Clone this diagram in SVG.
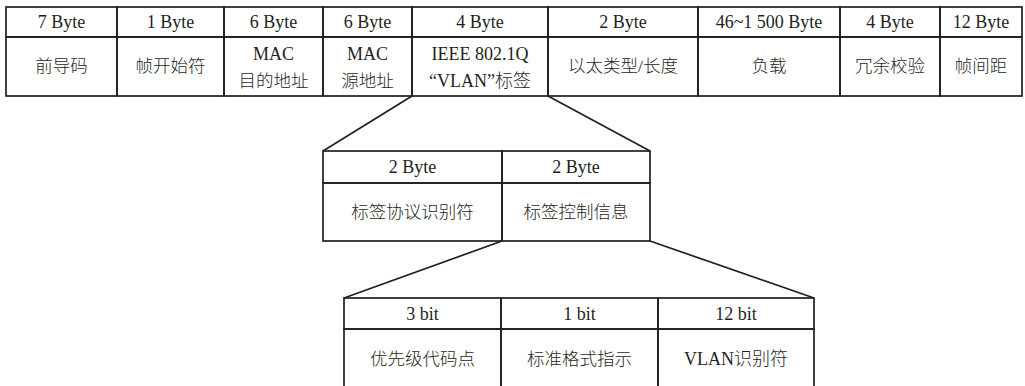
<svg xmlns="http://www.w3.org/2000/svg" width="1025" height="386" viewBox="0 0 1025 386">
<style>
  rect.c { fill: none; stroke: #231f20; stroke-width: 1.7; }
  line.k { stroke: #231f20; stroke-width: 1.7; }
  text { font-family: "Liberation Serif", "Noto Sans CJK SC", serif; font-size: 18px; font-weight: 300; fill: #231f20; text-anchor: middle; }
  text.cjk { font-size: 17.5px; }
</style>
<rect width="1025" height="386" fill="#ffffff"/>

<!-- Top frame table -->
<g id="preamble">
  <rect class="c" x="6" y="7" width="111" height="30"/>
  <rect class="c" x="6" y="37" width="111" height="59"/>
  <text x="61.5" y="28">7 Byte</text>
  <text class="cjk" x="61.5" y="72">前导码</text>
</g>
<g id="sfd">
  <rect class="c" x="117" y="7" width="107" height="30"/>
  <rect class="c" x="117" y="37" width="107" height="59"/>
  <text x="170.5" y="28">1 Byte</text>
  <text class="cjk" x="170.5" y="72">帧开始符</text>
</g>
<g id="dst-mac">
  <rect class="c" x="224" y="7" width="99" height="30"/>
  <rect class="c" x="224" y="37" width="99" height="59"/>
  <text x="273.5" y="28">6 Byte</text>
  <text x="273.5" y="60">MAC</text>
  <text class="cjk" x="273.5" y="87">目的地址</text>
</g>
<g id="src-mac">
  <rect class="c" x="323" y="7" width="89" height="30"/>
  <rect class="c" x="323" y="37" width="89" height="59"/>
  <text x="367.5" y="28">6 Byte</text>
  <text x="367.5" y="60">MAC</text>
  <text class="cjk" x="367.5" y="87">源地址</text>
</g>
<g id="vlan-tag">
  <rect class="c" x="412" y="7" width="136" height="30"/>
  <rect class="c" x="412" y="37" width="136" height="59"/>
  <text x="480" y="28">4 Byte</text>
  <text x="480" y="60">IEEE 802.1Q</text>
  <text x="480" y="87">“VLAN”标签</text>
</g>
<g id="ethertype">
  <rect class="c" x="548" y="7" width="150" height="30"/>
  <rect class="c" x="548" y="37" width="150" height="59"/>
  <text x="623" y="28">2 Byte</text>
  <text class="cjk" x="623" y="72">以太类型/长度</text>
</g>
<g id="payload">
  <rect class="c" x="698" y="7" width="142" height="30"/>
  <rect class="c" x="698" y="37" width="142" height="59"/>
  <text x="769" y="28">46~1 500 Byte</text>
  <text class="cjk" x="769" y="72">负载</text>
</g>
<g id="fcs">
  <rect class="c" x="840" y="7" width="100" height="30"/>
  <rect class="c" x="840" y="37" width="100" height="59"/>
  <text x="890" y="28">4 Byte</text>
  <text class="cjk" x="890" y="72">冗余校验</text>
</g>
<g id="ifg">
  <rect class="c" x="940" y="7" width="82" height="30"/>
  <rect class="c" x="940" y="37" width="82" height="59"/>
  <text x="981" y="28">12 Byte</text>
  <text class="cjk" x="981" y="72">帧间距</text>
</g>

<!-- Middle: VLAN tag breakdown -->
<g id="tpid">
  <rect class="c" x="323" y="151" width="179" height="32"/>
  <rect class="c" x="323" y="183" width="179" height="58"/>
  <text x="412.5" y="173">2 Byte</text>
  <text class="cjk" x="412.5" y="218">标签协议识别符</text>
</g>
<g id="tci">
  <rect class="c" x="502" y="151" width="148" height="32"/>
  <rect class="c" x="502" y="183" width="148" height="58"/>
  <text x="576" y="173">2 Byte</text>
  <text class="cjk" x="576" y="218">标签控制信息</text>
</g>

<!-- Bottom: TCI breakdown -->
<g id="pcp">
  <rect class="c" x="344" y="298" width="157" height="31"/>
  <rect class="c" x="344" y="329" width="157" height="80"/>
  <text x="422.5" y="320">3 bit</text>
  <text class="cjk" x="422.5" y="365">优先级代码点</text>
</g>
<g id="cfi">
  <rect class="c" x="501" y="298" width="157" height="31"/>
  <rect class="c" x="501" y="329" width="157" height="80"/>
  <text x="579.5" y="320">1 bit</text>
  <text class="cjk" x="579.5" y="365">标准格式指示</text>
</g>
<g id="vid">
  <rect class="c" x="658" y="298" width="156" height="31"/>
  <rect class="c" x="658" y="329" width="156" height="80"/>
  <text x="736" y="320">12 bit</text>
  <text x="736" y="365">VLAN识别符</text>
</g>

<!-- Connectors -->
<g id="connectors">
  <line class="k" x1="412" y1="96" x2="323" y2="151"/>
  <line class="k" x1="548" y1="96" x2="650" y2="151"/>
  <line class="k" x1="502" y1="241" x2="344" y2="298"/>
  <line class="k" x1="650" y1="241" x2="814" y2="298"/>
</g>
</svg>
